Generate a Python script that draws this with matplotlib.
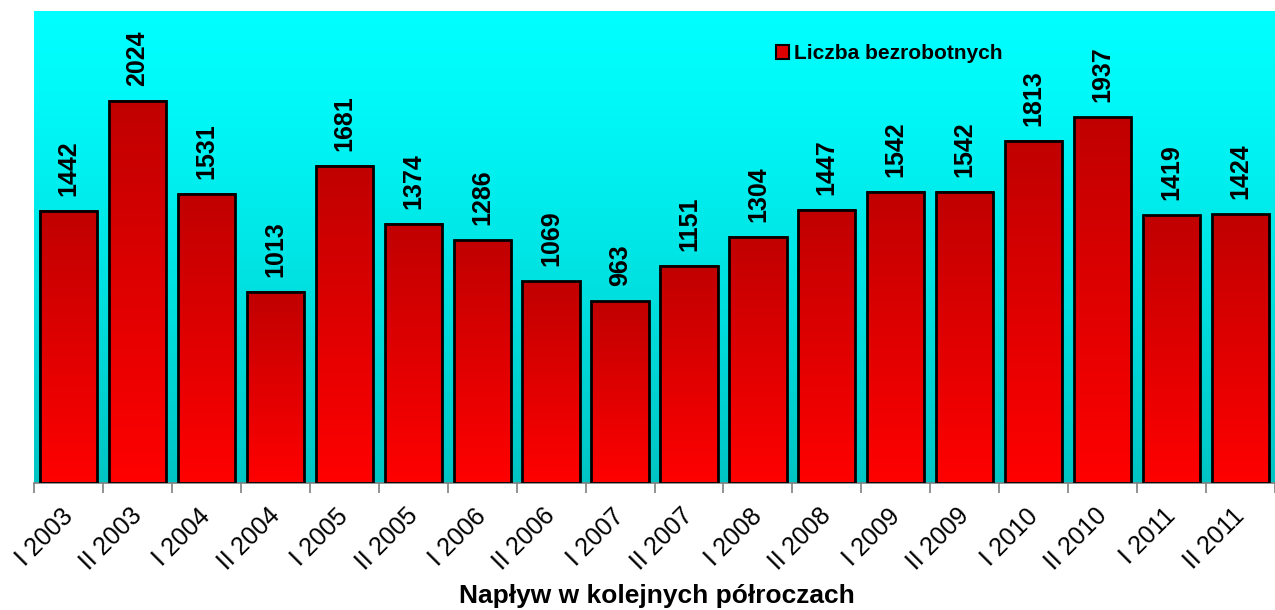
import matplotlib.pyplot as plt
import matplotlib.transforms as mtransforms
import numpy as np
from matplotlib.colors import LinearSegmentedColormap
from matplotlib.patches import Patch

plt.rcParams["font.family"] = ["Liberation Sans", "DejaVu Sans"]

# =============================================================================
categories = ["I 2003", "II 2003", "I 2004", "II 2004", "I 2005", "II 2005",
              "I 2006", "II 2006", "I 2007", "II 2007", "I 2008", "II 2008",
              "I 2009", "II 2009", "I 2010", "II 2010", "I 2011", "II 2011"]
values = [1442, 2024, 1531, 1013, 1681, 1374, 1286, 1069, 963, 1151, 1304,
          1447, 1542, 1542, 1813, 1937, 1419, 1424]
series_name = "Liczba bezrobotnych"
xlabel = "Napływ w kolejnych półroczach"
# =============================================================================

fig = plt.figure(figsize=(12.75, 6.1), dpi=100)
ax = fig.add_axes([34 / 1275, 1 - 483 / 610, 1 - 34 / 1275, 472 / 610])

n = len(values)
ymax = 2500
ax.set_xlim(-0.5, n - 0.5)
ax.set_ylim(0, ymax)

# background gradient (cyan top -> darker teal bottom)
bg_cmap = LinearSegmentedColormap.from_list(
    "bg", [(0.0, "#00c4c4"), (0.5, "#00e6e6"), (0.8, "#00f8f8"),
           (1.0, "#00ffff")])
grad = np.linspace(0, 1, 256).reshape(-1, 1)
ax.imshow(grad, extent=[-0.5, n - 0.5, 0, ymax], origin="lower",
          aspect="auto", cmap=bg_cmap, zorder=0)

# bars with vertical red gradient
bar_cmap = LinearSegmentedColormap.from_list("bar", ["#ff0000", "#c00000"])
width = 0.83
x = np.arange(n)
for xi, v in zip(x, values):
    ax.imshow(grad, extent=[xi - width / 2, xi + width / 2, 0, v],
              origin="lower", aspect="auto", cmap=bar_cmap, zorder=2)
ax.bar(x, values, width=width, facecolor="none", edgecolor="black",
       linewidth=2, zorder=3)

for xi, v in zip(x, values):
    ax.annotate(str(v), (xi, v), xytext=(0, 15), textcoords="offset pixels",
                rotation=90, ha="center", va="bottom", fontsize=18,
                fontweight="bold", zorder=4)

ax.set_xlim(-0.5, n - 0.5)
ax.set_ylim(0, ymax)

# axes styling
for side in ["left", "right", "top"]:
    ax.spines[side].set_visible(False)
ax.spines["bottom"].set_color("#808080")
ax.spines["bottom"].set_linewidth(1.2)
ax.set_yticks([])
ax.set_xticks(x)
ax.set_xticklabels(categories, rotation=45, ha="right",
                   rotation_mode="anchor", fontsize=18)
ax.tick_params(axis="x", which="major", length=0, pad=15)
ax.set_xticks(np.arange(n + 1) - 0.5, minor=True)
ax.tick_params(axis="x", which="minor", length=7, width=1.2, color="#808080")

shift = mtransforms.ScaledTranslation(-8 / 100, 0, fig.dpi_scale_trans)
for lbl in ax.get_xticklabels():
    lbl.set_transform(lbl.get_transform() + shift)

ax.legend(handles=[Patch(facecolor="#e00000", edgecolor="black",
                         linewidth=1.5, label=series_name)],
          loc="center left", bbox_to_anchor=(0.598, 0.909), frameon=False,
          handlelength=0.6, handleheight=0.6, handletextpad=0.25,
          borderpad=0, borderaxespad=0,
          prop={"size": 15, "weight": "bold"})

fig.text(657 / 1275, 1 - 603 / 610, xlabel, ha="center", va="baseline",
         fontsize=19, fontweight="bold")

fig.savefig("out.png", dpi=100)
